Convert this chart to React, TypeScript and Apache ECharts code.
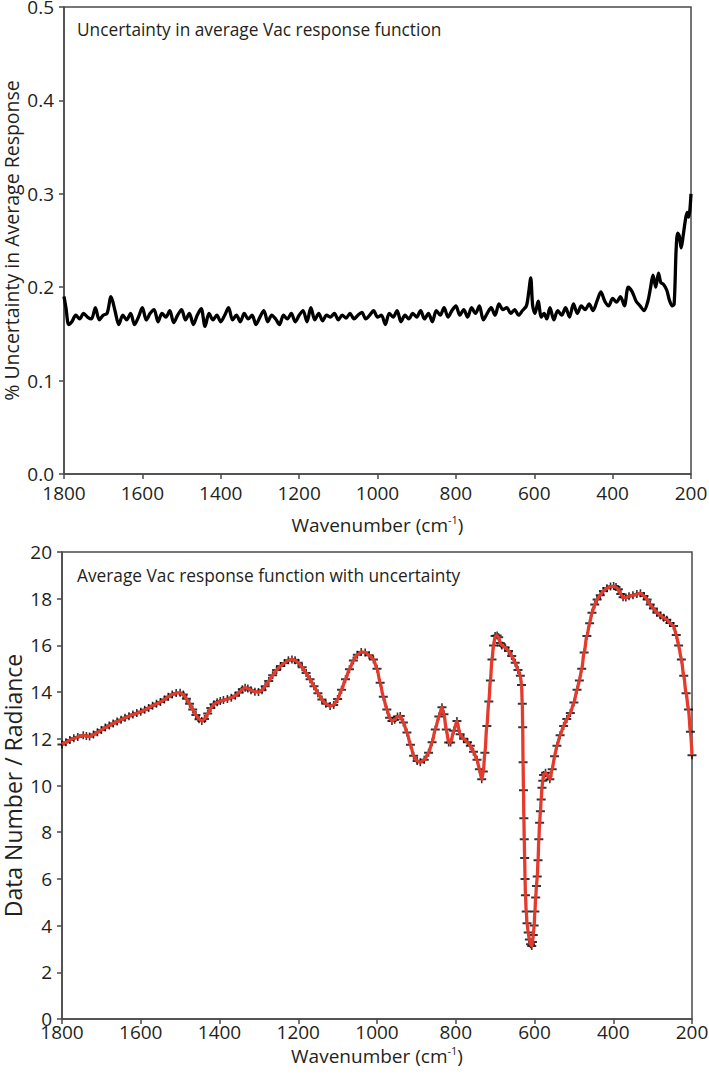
import React, { useEffect, useRef } from 'react';
import * as echarts from 'echarts';

// ---------- Data ----------
// Top panel: % uncertainty in average response vs wavenumber (cm-1)
const uncWn = [
  1800, 1795, 1788, 1780, 1770, 1760, 1750, 1740, 1730, 1720, 1710, 1700, 1690, 1680, 1670, 1660,
  1650, 1640, 1630, 1620, 1610, 1600, 1590, 1580, 1570, 1560, 1550, 1540, 1530, 1520, 1510, 1500,
  1490, 1480, 1470, 1460, 1450, 1440, 1430, 1420, 1410, 1400, 1390, 1380, 1370, 1360, 1350, 1340,
  1330, 1320, 1310, 1300, 1290, 1280, 1270, 1260, 1250, 1240, 1230, 1220, 1210, 1200, 1190, 1180,
  1170, 1160, 1150, 1140, 1130, 1120, 1110, 1100, 1090, 1080, 1070, 1060, 1050, 1040, 1030, 1020,
  1010, 1000, 990, 980, 970, 960, 950, 940, 930, 920, 910, 900, 890, 880, 870, 860,
  850, 840, 830, 820, 810, 800, 790, 780, 770, 760, 750, 740, 730, 720, 710, 700,
  690, 680, 670, 660, 650, 640, 630, 620, 614, 609, 604, 598, 590, 582, 575, 568,
  560, 550, 540, 530, 520, 510, 500, 490, 480, 470, 460, 450, 440, 430, 420, 410,
  400, 390, 380, 370, 360, 350, 340, 330, 320, 310, 303, 297, 290, 283, 277, 270,
  262, 255, 248, 243, 238, 234, 230, 225, 220, 215, 210, 206, 203, 200,
];
const uncVal = [
  0.190, 0.178, 0.160, 0.163, 0.170, 0.166, 0.172, 0.168, 0.166, 0.178, 0.165, 0.170, 0.172, 0.190, 0.175, 0.160,
  0.170, 0.165, 0.172, 0.160, 0.168, 0.178, 0.165, 0.172, 0.176, 0.163, 0.172, 0.168, 0.175, 0.162, 0.170, 0.176,
  0.165, 0.172, 0.160, 0.170, 0.177, 0.158, 0.172, 0.165, 0.170, 0.163, 0.170, 0.178, 0.165, 0.170, 0.163, 0.172,
  0.166, 0.170, 0.160, 0.168, 0.175, 0.163, 0.170, 0.166, 0.160, 0.170, 0.166, 0.172, 0.163, 0.170, 0.175, 0.163,
  0.178, 0.165, 0.172, 0.164, 0.170, 0.168, 0.172, 0.165, 0.170, 0.167, 0.172, 0.166, 0.170, 0.173, 0.166, 0.170,
  0.175, 0.168, 0.170, 0.160, 0.172, 0.168, 0.175, 0.163, 0.170, 0.166, 0.172, 0.168, 0.175, 0.166, 0.172, 0.163,
  0.175, 0.170, 0.178, 0.168, 0.175, 0.180, 0.170, 0.176, 0.168, 0.178, 0.172, 0.180, 0.165, 0.172, 0.178, 0.170,
  0.182, 0.176, 0.178, 0.172, 0.176, 0.170, 0.175, 0.180, 0.195, 0.210, 0.180, 0.172, 0.185, 0.168, 0.172, 0.166,
  0.178, 0.165, 0.175, 0.170, 0.178, 0.168, 0.182, 0.172, 0.180, 0.176, 0.182, 0.175, 0.185, 0.195, 0.185, 0.180,
  0.188, 0.184, 0.190, 0.180, 0.200, 0.195, 0.185, 0.180, 0.175, 0.185, 0.200, 0.213, 0.200, 0.215, 0.205, 0.203,
  0.197, 0.186, 0.180, 0.182, 0.240, 0.258, 0.255, 0.242, 0.255, 0.270, 0.280, 0.275, 0.282, 0.300,
];

// Bottom panel: average response (Data Number / Radiance) vs wavenumber (cm-1)
const respWn = [
  1800, 1790, 1780, 1770, 1760, 1746, 1738, 1730, 1720, 1710, 1700, 1690, 1680, 1670, 1660, 1650,
  1640, 1630, 1620, 1610, 1600, 1590, 1580, 1570, 1560, 1550, 1540, 1530, 1520, 1510, 1500, 1492,
  1484, 1476, 1468, 1460, 1452, 1445, 1438, 1430, 1422, 1414, 1406, 1398, 1390, 1380, 1370, 1360,
  1350, 1342, 1335, 1328, 1320, 1310, 1301, 1292, 1284, 1275, 1265, 1255, 1245, 1235, 1225, 1216,
  1208, 1200, 1190, 1180, 1170, 1160, 1150, 1140, 1130, 1119, 1110, 1100, 1090, 1080, 1070, 1060,
  1050, 1040, 1030, 1020, 1009, 1000, 992, 984, 975, 968, 962, 955, 948, 941, 933, 924,
  915, 907, 898, 890, 880, 869, 860, 852, 843, 835, 830, 824, 818, 813, 805, 797,
  789, 780, 770, 763, 755, 746, 740, 734, 730, 726, 721, 716, 712, 708, 704, 700,
  695, 691, 687, 683, 675, 666, 658, 649, 642, 636, 633, 631, 630, 629, 628, 627,
  626, 625, 624, 623, 621, 619, 616, 613, 610, 607, 605, 603, 601, 599, 597, 595,
  593, 591, 589, 587, 585, 583, 581, 579, 577, 572, 566, 561, 555, 549, 543, 535,
  526, 518, 509, 500, 492, 486, 480, 474, 467, 460, 454, 447, 441, 433, 425, 416,
  407, 399, 393, 387, 381, 375, 368, 360, 350, 340, 331, 322, 314, 306, 298, 289,
  280, 272, 264, 256, 247, 240, 234, 227, 221, 215, 209, 204, 200,
];
const respVal = [
  11.76, 11.85, 11.95, 12.02, 12.08, 12.15, 12.12, 12.10, 12.18, 12.28, 12.38, 12.48, 12.57, 12.66, 12.74, 12.82,
  12.90, 12.97, 13.04, 13.10, 13.16, 13.24, 13.32, 13.42, 13.50, 13.58, 13.68, 13.80, 13.90, 13.96, 13.97, 13.90,
  13.72, 13.50, 13.25, 13.02, 12.84, 12.76, 12.85, 13.08, 13.32, 13.48, 13.56, 13.62, 13.66, 13.70, 13.76, 13.84,
  13.98, 14.12, 14.19, 14.15, 14.08, 14.02, 14.00, 14.08, 14.25, 14.48, 14.72, 14.95, 15.12, 15.25, 15.36, 15.40,
  15.36, 15.26, 15.06, 14.82, 14.55, 14.25, 13.95, 13.68, 13.50, 13.40, 13.45, 13.70, 14.10, 14.55, 14.98, 15.35,
  15.60, 15.72, 15.70, 15.58, 15.40, 15.00, 14.40, 13.80, 13.26, 12.90, 12.76, 12.82, 12.95, 12.98, 12.70, 12.27,
  11.75, 11.27, 11.05, 11.00, 11.10, 11.40, 11.85, 12.40, 12.95, 13.35, 13.05, 12.40, 11.84, 11.84, 12.35, 12.76,
  12.20, 12.00, 11.85, 11.70, 11.45, 11.10, 10.70, 10.27, 10.60, 11.40, 12.55, 13.60, 14.50, 15.40, 16.00, 16.40,
  16.42, 16.35, 16.10, 16.00, 15.92, 15.76, 15.55, 15.26, 14.95, 14.70, 14.30, 13.50, 12.50, 11.00, 9.80, 8.60,
  7.70, 6.90, 6.00, 5.30, 4.60, 4.10, 3.70, 3.40, 3.20, 3.13, 3.30, 3.60, 4.00, 4.60, 5.20, 5.70,
  6.10, 6.80, 7.70, 8.40, 8.90, 9.40, 9.90, 10.20, 10.45, 10.55, 10.40, 10.27, 10.70, 11.25, 11.70, 12.15,
  12.55, 12.85, 13.10, 13.55, 14.10, 14.50, 15.00, 15.70, 16.40, 16.95, 17.40, 17.75, 17.97, 18.15, 18.33, 18.45,
  18.52, 18.54, 18.50, 18.40, 18.20, 18.06, 18.05, 18.10, 18.15, 18.20, 18.23, 18.12, 17.97, 17.75, 17.58, 17.40,
  17.28, 17.18, 17.10, 16.96, 16.83, 16.45, 16.00, 15.40, 14.70, 13.95, 13.26, 12.30, 11.30,
];

const topTitle = 'Uncertainty in average Vac response function';
const bottomTitle = 'Average Vac response function with uncertainty';
const topYName = '% Uncertainty in Average Response';
const bottomYName = 'Data Number / Radiance';

const FONT = '"Open Sans", "Noto Sans", sans-serif';
const TXT = '#231f20';
const AX = '#4a4a4a';
const RED = '#e63a2c';

export default function App() {
  const ref = useRef<HTMLDivElement>(null);

  useEffect(() => {
    if (!ref.current) return;
    const chart = echarts.init(ref.current, undefined, { renderer: 'svg' });

    const uncData = uncWn.map((w, i) => [w, uncVal[i]]);
    const respData = respWn.map((w, i) => [w, respVal[i]]);

    const xAxisBase = (gridIndex: number, labelMargin: number, gap: number) => ({
      gridIndex,
      type: 'value',
      min: 200,
      max: 1800,
      interval: 200,
      inverse: true,
      axisLine: { show: true, onZero: false, lineStyle: { color: AX, width: 1.5 } },
      axisTick: { show: true, inside: false, length: 5, lineStyle: { color: AX, width: 1.5 } },
      axisLabel: {
        color: TXT,
        fontSize: 19,
        fontFamily: FONT,
        margin: labelMargin,
        formatter: (v: number) => String(v),
      },
      splitLine: { show: false },
      name: '{a|Wavenumber (cm}{s|-1}{a|)}',
      nameLocation: 'middle',
      nameGap: gap,
      nameMoveOverlap: false,
      nameTextStyle: {
        rich: {
          a: { fontSize: 19, fontFamily: FONT, color: TXT, lineHeight: 22 },
          s: { fontSize: 11, fontFamily: FONT, color: TXT, verticalAlign: 'top', lineHeight: 22 },
        },
      },
    });

    const option: any = {
      animation: false,
      backgroundColor: '#ffffff',
      grid: [
        {
          left: 64, top: 7, width: 627, height: 467,
          outerBoundsMode: 'none', containLabel: false,
          show: true, borderColor: AX, borderWidth: 1.5, backgroundColor: 'transparent',
        },
        {
          left: 62, top: 552, width: 630, height: 467,
          outerBoundsMode: 'none', containLabel: false,
          show: true, borderColor: AX, borderWidth: 1.5, backgroundColor: 'transparent',
        },
      ],
      xAxis: [xAxisBase(0, 9, 40), xAxisBase(1, 3, 26)],
      yAxis: [
        {
          gridIndex: 0,
          type: 'value',
          min: 0,
          max: 0.5,
          interval: 0.1,
          axisLine: { show: true, lineStyle: { color: AX, width: 1.5 } },
          axisTick: { show: true, inside: false, length: 5, lineStyle: { color: AX, width: 1.5 } },
          axisLabel: { color: TXT, fontSize: 19, fontFamily: FONT, margin: 10, formatter: (v: number) => v.toFixed(1) },
          splitLine: { show: false },
          name: topYName,
          nameLocation: 'middle',
          nameGap: 43,
          nameMoveOverlap: false,
          nameRotate: 90,
          nameTextStyle: { color: TXT, fontSize: 19.5, fontFamily: FONT },
        },
        {
          gridIndex: 1,
          type: 'value',
          min: 0,
          max: 20,
          interval: 2,
          axisLine: { show: true, lineStyle: { color: AX, width: 1.5 } },
          axisTick: { show: true, inside: false, length: 5, lineStyle: { color: AX, width: 1.5 } },
          axisLabel: { color: TXT, fontSize: 19, fontFamily: FONT, margin: 10 },
          splitLine: { show: false },
          name: bottomYName,
          nameLocation: 'middle',
          nameGap: 38,
          nameMoveOverlap: false,
          nameRotate: 90,
          nameTextStyle: { color: TXT, fontSize: 23, fontFamily: FONT },
        },
      ],
      graphic: [
        { type: 'text', left: 77, top: 21, style: { text: topTitle, fill: TXT, font: `17.3px ${FONT}` } },
        { type: 'text', left: 77, top: 567, style: { text: bottomTitle, fill: TXT, font: `17.3px ${FONT}` } },
      ],
      series: [
        {
          type: 'line',
          xAxisIndex: 0,
          yAxisIndex: 0,
          data: uncData,
          showSymbol: false,
          smooth: 0.3,
          lineStyle: { color: '#000000', width: 3.3 },
          itemStyle: { color: '#000000' },
        },
        {
          type: 'scatter',
          xAxisIndex: 1,
          yAxisIndex: 1,
          data: respData,
          symbol: 'path://M0 3 H9 V5 H0 Z M3.7 0 H5.3 V8 H3.7 Z',
          symbolSize: [9, 8],
          itemStyle: { color: '#000000' },
        },
        {
          type: 'line',
          xAxisIndex: 1,
          yAxisIndex: 1,
          data: respData,
          showSymbol: false,
          smooth: 0.3,
          smoothMonotone: 'x',
          lineStyle: { color: RED, width: 3.3 },
          itemStyle: { color: RED },
        },
      ],
    };

    chart.setOption(option);
    return () => chart.dispose();
  }, []);

  return (
    <div
      ref={ref}
      style={{ position: 'absolute', left: 0, top: 0, width: 709, height: 1077, background: '#fff' }}
    />
  );
}
